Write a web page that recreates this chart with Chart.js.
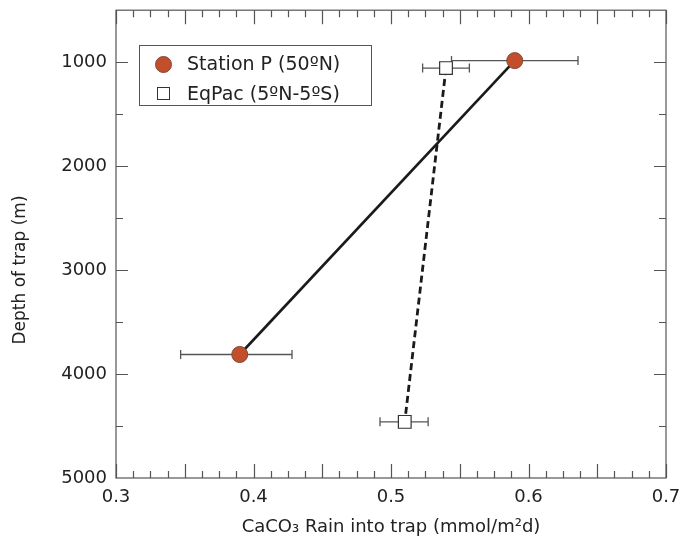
<!DOCTYPE html>
<html>
<head>
<meta charset="utf-8">
<script src="https://cdn.jsdelivr.net/npm/chart.js@4/dist/chart.umd.min.js"></script>
<style>
  html, body { margin: 0; padding: 0; background: #fff; }
  #wrap { position: relative; width: 686px; height: 548px; }
  #legend {
    position: absolute; left: 139px; top: 45px; width: 231px; height: 59px;
    border: 1px solid #555; background: #fff;
    font-family: "DejaVu Sans", sans-serif; font-size: 19px; color: #222;
  }
  .row { position: absolute; left: 0; height: 30px; line-height: 30px; white-space: nowrap; }
  .row span { position: absolute; left: 47px; top: 0; }
  .dot { position: absolute; left: 15px; top: 8px; width: 15px; height: 15px; border-radius: 50%;
         background: #c24e2b; border: 1px solid #7d4a3a; }
  .sq { position: absolute; left: 17px; top: 9px; width: 11px; height: 11px; background: #fff; border: 1px solid #333; }
</style>
</head>
<body>
<div id="wrap">
  <canvas id="c" width="686" height="548"></canvas>
  <div id="legend">
    <div class="row" style="top:2px"><div class="dot"></div><span>Station P (50ºN)</span></div>
    <div class="row" style="top:32px"><div class="sq"></div><span>EqPac (5ºN-5ºS)</span></div>
  </div>
</div>
<script>
// ---- data ----
const stationX = [0.590, 0.390];
const stationY = [985, 3812];
const stationErrLo = [0.544, 0.347];
const stationErrHi = [0.636, 0.428];

const eqpacX = [0.540, 0.510];
const eqpacY = [1057, 4460];
const eqpacErrLo = [0.523, 0.492];
const eqpacErrHi = [0.557, 0.527];

const xTickValues = [0.3, 0.4, 0.5, 0.6, 0.7];
const yTickValues = [1000, 2000, 3000, 4000, 5000];

const FONT = '"DejaVu Sans", sans-serif';
const Y_TITLE = 'Depth of trap (m)';

const stationPts = stationX.map((x, i) => ({x, y: stationY[i], lo: stationErrLo[i], hi: stationErrHi[i]}));
const eqpacPts = eqpacX.map((x, i) => ({x, y: eqpacY[i], lo: eqpacErrLo[i], hi: eqpacErrHi[i]}));

const errorBars = {
  id: 'errorBars',
  beforeDatasetsDraw(chart) {
    const {ctx, scales: {x, y}} = chart;
    ctx.save();
    ctx.strokeStyle = '#555';
    ctx.lineWidth = 1.3;
    [stationPts, eqpacPts].forEach(pts => pts.forEach(p => {
      const py = y.getPixelForValue(p.y);
      const x1 = x.getPixelForValue(p.lo), x2 = x.getPixelForValue(p.hi);
      ctx.beginPath();
      ctx.moveTo(x1, py); ctx.lineTo(x2, py);
      ctx.moveTo(x1, py - 4.5); ctx.lineTo(x1, py + 4.5);
      ctx.moveTo(x2, py - 4.5); ctx.lineTo(x2, py + 4.5);
      ctx.stroke();
    }));
    ctx.restore();
  }
};

const frameTicks = {
  id: 'frameTicks',
  afterDraw(chart) {
    const {ctx, chartArea: a, scales: {x, y}} = chart;
    ctx.save();
    ctx.strokeStyle = '#555';
    ctx.lineWidth = 1.2;
    ctx.strokeRect(a.left, a.top, a.right - a.left, a.bottom - a.top);
    ctx.beginPath();
    for (let k = 0; k <= 32; k++) {
      const v = 0.3 + k * 0.0125;
      const px = Math.round(x.getPixelForValue(v)) + 0.5;
      const len = (k % 4 === 0) ? 14 : 7;
      ctx.moveTo(px, a.bottom); ctx.lineTo(px, a.bottom - len);
      ctx.moveTo(px, a.top); ctx.lineTo(px, a.top + len);
    }
    for (let v = 1000; v < 5000; v += 500) {
      const py = Math.round(y.getPixelForValue(v)) + 0.5;
      const len = (v % 1000 === 0) ? 12 : 7;
      ctx.moveTo(a.left, py); ctx.lineTo(a.left + len, py);
      ctx.moveTo(a.right, py); ctx.lineTo(a.right - len, py);
    }
    ctx.stroke();
    // y axis title
    ctx.fillStyle = '#222';
    ctx.font = '17px ' + FONT;
    ctx.textAlign = 'center';
    ctx.textBaseline = 'middle';
    ctx.translate(21, 270);
    ctx.rotate(-Math.PI / 2);
    ctx.fillText(Y_TITLE, 0, 0);
    ctx.restore();
  }
};

new Chart(document.getElementById('c'), {
  type: 'scatter',
  data: {
    datasets: [
      {
        label: 'Station P (50ºN)',
        data: stationPts,
        showLine: true,
        borderColor: '#1a1a1a',
        borderWidth: 2.6,
        pointRadius: 8,
        pointHoverRadius: 8,
        pointBackgroundColor: '#c24e2b',
        pointBorderColor: '#7d4a3a',
        pointBorderWidth: 1,
        order: 1
      },
      {
        label: 'EqPac (5ºN-5ºS)',
        data: eqpacPts,
        showLine: true,
        borderColor: '#1a1a1a',
        borderWidth: 2.8,
        borderDash: [7, 4],
        pointStyle: 'rect',
        pointRadius: 9,
        pointHoverRadius: 9,
        pointBackgroundColor: '#ffffff',
        pointBorderColor: '#333',
        pointBorderWidth: 1.2,
        order: 2
      }
    ]
  },
  options: {
    responsive: false,
    animation: false,
    layout: { padding: { top: 8, right: 20, left: 0, bottom: 0 } },
    plugins: { legend: { display: false }, tooltip: { enabled: false } },
    scales: {
      x: {
        type: 'linear',
        min: 0.3, max: 0.7,
        afterBuildTicks: s => { s.ticks = xTickValues.map(v => ({value: v})); },
        afterFit: s => { s.height = 70; s.paddingLeft = 0; s.paddingRight = 0; },
        grid: { display: false, drawTicks: false },
        border: { display: false },
        ticks: { color: '#222', font: { family: FONT, size: 18 }, padding: 9,
                 callback: v => v.toFixed(1) },
        title: { display: true, text: 'CaCO₃ Rain into trap (mmol/m²d)', color: '#222',
                 font: { family: FONT, size: 18 }, padding: { top: 0, bottom: 10 } }
      },
      y: {
        type: 'linear',
        reverse: true,
        min: 500, max: 5000,
        afterBuildTicks: s => { s.ticks = yTickValues.map(v => ({value: v})); },
        afterFit: s => { s.width = 116; s.paddingTop = 0; s.paddingBottom = 0; },
        grid: { display: false, drawTicks: false },
        border: { display: false },
        ticks: { color: '#222', font: { family: FONT, size: 18 }, padding: 9,
                 callback: v => String(v) },
        title: { display: false }
      }
    }
  },
  plugins: [errorBars, frameTicks]
});
</script>
</body>
</html>
